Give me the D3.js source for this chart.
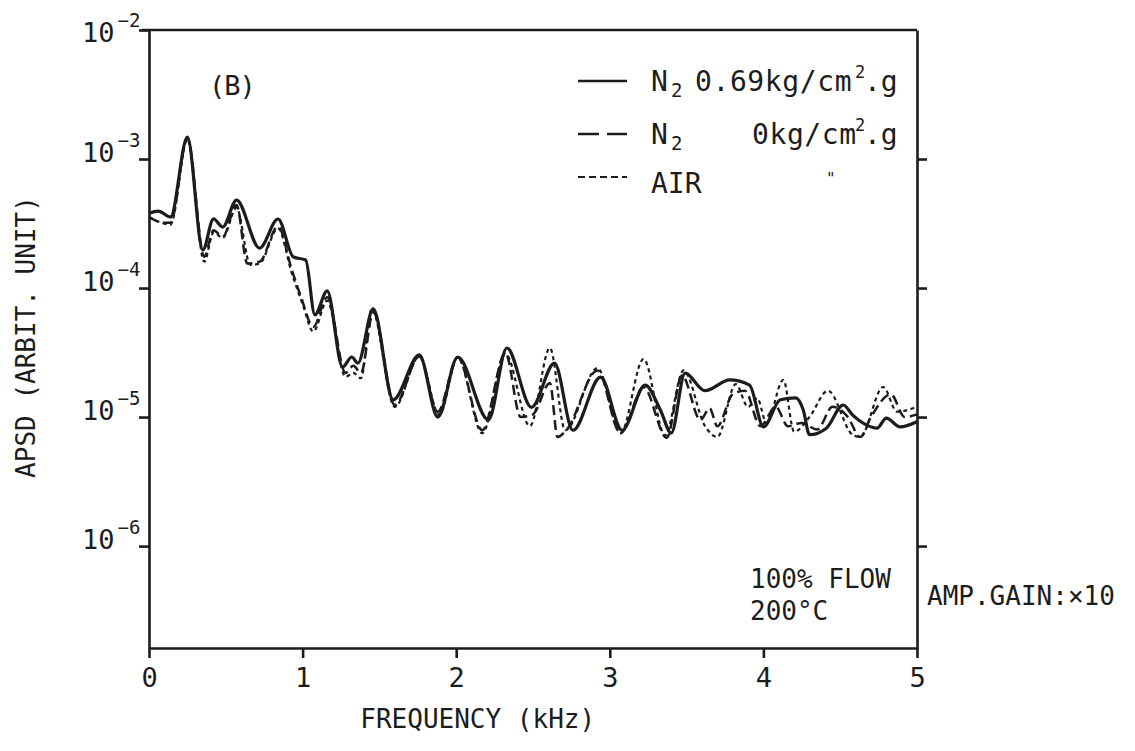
<!DOCTYPE html>
<html>
<head>
<meta charset="utf-8">
<script src="https://cdn.jsdelivr.net/npm/d3@7"></script>
<style>
  body { margin: 0; background: #fff; }
  text { font-family: "DejaVu Sans Mono", monospace; fill: #1c1c1c; }
</style>
</head>
<body>
<div class="canvas"></div>
<script>
// Data (frequency in kHz, APSD in arbitrary units)

const freqN2High = [0, 0.06, 0.14, 0.25, 0.35, 0.42, 0.48, 0.57, 0.72, 0.84, 0.94, 1.02, 1.08, 1.16, 1.26, 1.32, 1.36, 1.46, 1.59, 1.76, 1.88, 2.01, 2.21, 2.33, 2.49, 2.64, 2.76, 2.94, 3.08, 3.23, 3.33, 3.40, 3.49, 3.62, 3.78, 3.91, 4.00, 4.11, 4.21, 4.26, 4.30, 4.41, 4.52, 4.58, 4.67, 4.74, 4.80, 4.89, 5.0];
const apsdN2High = [3.8e-4, 3.95e-4, 3.55e-4, 1.48e-3, 1.97e-4, 3.43e-4, 2.97e-4, 4.81e-4, 2.04e-4, 3.43e-4, 1.74e-4, 1.65e-4, 6.2e-5, 9.5e-5, 2.44e-5, 2.92e-5, 2.62e-5, 6.9e-5, 1.36e-5, 3.03e-5, 1.0e-5, 2.92e-5, 9.5e-6, 3.43e-5, 1.19e-5, 2.62e-5, 7.9e-6, 2.04e-5, 7.9e-6, 1.77e-5, 1.13e-5, 7.5e-6, 2.19e-5, 1.6e-5, 1.94e-5, 1.77e-5, 8.4e-6, 1.36e-5, 1.41e-5, 1.13e-5, 7.3e-6, 8.2e-6, 1.24e-5, 1.04e-5, 8.7e-6, 8.2e-6, 9.8e-6, 8.4e-6, 9.2e-6];

const freqN2Zero = [0, 0.10, 0.14, 0.25, 0.36, 0.42, 0.48, 0.57, 0.64, 0.72, 0.84, 0.93, 0.99, 1.07, 1.16, 1.28, 1.33, 1.38, 1.46, 1.60, 1.76, 1.88, 2.01, 2.17, 2.32, 2.42, 2.50, 2.61, 2.66, 2.72, 2.92, 3.07, 3.22, 3.37, 3.47, 3.59, 3.65, 3.70, 3.80, 3.88, 3.98, 4.08, 4.16, 4.25, 4.35, 4.45, 4.55, 4.63, 4.70, 4.83, 4.92, 5.0];
const apsdN2Zero = [3.55e-4, 3.2e-4, 3.2e-4, 1.45e-3, 1.75e-4, 2.8e-4, 2.5e-4, 4.4e-4, 1.55e-4, 1.6e-4, 3.0e-4, 1.38e-4, 8.5e-5, 5.0e-5, 8.5e-5, 2.2e-5, 2.5e-5, 2.2e-5, 6.5e-5, 1.24e-5, 2.95e-5, 1.1e-5, 2.9e-5, 7.9e-6, 3.13e-5, 1.0e-5, 1.05e-5, 1.84e-5, 7.0e-6, 8.0e-6, 2.3e-5, 7.5e-6, 1.7e-5, 6.9e-6, 2.1e-5, 9.5e-6, 1.17e-5, 8.5e-6, 1.5e-5, 1.6e-5, 8.5e-6, 1.2e-5, 8.5e-6, 9.0e-6, 8.0e-6, 1.2e-5, 1.0e-5, 7.0e-6, 1.0e-5, 1.5e-5, 1.0e-5, 1.05e-5];

const freqAir = [0, 0.14, 0.25, 0.36, 0.42, 0.48, 0.57, 0.66, 0.72, 0.84, 0.93, 1.00, 1.07, 1.16, 1.28, 1.33, 1.38, 1.45, 1.60, 1.76, 1.89, 2.01, 2.17, 2.32, 2.48, 2.61, 2.71, 2.92, 3.07, 3.22, 3.36, 3.48, 3.62, 3.70, 3.82, 3.90, 3.96, 4.02, 4.13, 4.20, 4.30, 4.42, 4.58, 4.63, 4.78, 4.87, 5.0];
const apsdAir = [3.55e-4, 3.1e-4, 1.42e-3, 1.6e-4, 2.7e-4, 2.45e-4, 4.2e-4, 1.51e-4, 1.55e-4, 2.9e-4, 1.3e-4, 7.5e-5, 4.6e-5, 8.0e-5, 2.05e-5, 2.2e-5, 2.0e-5, 6.9e-5, 1.2e-5, 2.95e-5, 1.04e-5, 2.9e-5, 7.5e-6, 3.1e-5, 8.5e-6, 3.43e-5, 7.9e-6, 2.4e-5, 7.5e-6, 2.82e-5, 7.2e-6, 2.3e-5, 8.5e-6, 7.0e-6, 1.8e-5, 1.2e-5, 1.4e-5, 9.0e-6, 1.94e-5, 7.7e-6, 1.0e-5, 1.6e-5, 7.3e-6, 7.0e-6, 1.71e-5, 1.1e-5, 1.2e-5];

const xTicks = [0, 1, 2, 3, 4, 5];
const yTicks = [1e-2, 1e-3, 1e-4, 1e-5, 1e-6];
const yExponents = ["-2", "-3", "-4", "-5", "-6"];

// Set dimensions & margins

const margin = { top: 30, right: 218, bottom: 103, left: 149 };
const width = 1135 - margin.left - margin.right;
const height = 751 - margin.top - margin.bottom;
const ink = "#1c1c1c";

const x = d3.scaleLinear().domain([0, 5]).range([0, width]);
const y = d3.scaleLog().domain([Math.pow(10, -6.79), 1e-2]).range([height, 0]);

const svg = d3.select(".canvas")
    .append("svg")
        .attr("width", 1135)
        .attr("height", 751)
    .append("g")
        .attr("transform", `translate(${margin.left}, ${margin.top})`);

// axes (ticks outward, labels drawn separately)

const axisStyle = g => {
    g.selectAll("path, line").attr("stroke", ink).attr("stroke-width", 2.6);
    g.selectAll("text").remove();
};

svg.append("g")
    .call(d3.axisLeft(y).tickValues(yTicks).tickSize(10).tickSizeOuter(0).tickFormat(""))
    .call(axisStyle);

svg.append("g")
    .attr("transform", `translate(${width},0)`)
    .call(d3.axisRight(y).tickValues(yTicks.slice(1)).tickSize(10).tickSizeOuter(0).tickFormat(""))
    .call(axisStyle);

svg.append("g")
    .attr("transform", `translate(0,${height})`)
    .call(d3.axisBottom(x).tickValues(xTicks).tickSize(10).tickSizeOuter(0).tickFormat(d3.format("d")))
    .call(g => g.selectAll("path, line").attr("stroke", ink).attr("stroke-width", 2.6))
    .selectAll("text")
        .attr("y", 20)
        .attr("dy", "0.71em")
        .style("font-size", "27px")
        .style("font-family", "DejaVu Sans Mono")
        .attr("fill", ink);

svg.append("line")
    .attr("x1", -7).attr("x2", width)
    .attr("y1", 0).attr("y2", 0)
    .attr("stroke", ink).attr("stroke-width", 2.6);

// y tick labels 10^-n

yTicks.forEach((t, i) => {
    const lbl = svg.append("text")
        .attr("x", -67)
        .attr("y", y(t) + (i === 0 ? 12 : 3))
        .style("font-size", "27px");
    lbl.append("tspan").text("10");
    lbl.append("tspan")
        .attr("dx", 3)
        .attr("dy", -15)
        .style("font-size", "19px")
        .text(yExponents[i].replace("-", "\u2212"));
});

// axis titles

svg.append("text")
    .attr("x", x(2.14))
    .attr("y", height + 80)
    .style("text-anchor", "middle")
    .style("font-size", "26px")
    .text("FREQUENCY (kHz)");

svg.append("text")
    .attr("transform", "rotate(-90)")
    .attr("x", -(337 - margin.top))
    .attr("y", 35 - margin.left)
    .style("text-anchor", "middle")
    .style("font-size", "26px")
    .text("APSD (ARBIT. UNIT)");

// series lines

const series = [
    { name: "n2high", f: freqN2High, v: apsdN2High, width: 3.2, dash: null },
    { name: "n2zero", f: freqN2Zero, v: apsdN2Zero, width: 2.5, dash: "10,5" },
    { name: "air", f: freqAir, v: apsdAir, width: 2.2, dash: "4,3.5" }
];

const line = d3.line()
    .x(d => x(d[0]))
    .y(d => y(d[1]))
    .curve(d3.curveMonotoneX);

series.slice().reverse().forEach(s => {
    svg.append("path")
        .datum(d3.zip(s.f, s.v))
        .attr("fill", "none")
        .attr("stroke", ink)
        .attr("stroke-width", s.width)
        .attr("stroke-linejoin", "round")
        .attr("stroke-dasharray", s.dash)
        .attr("d", line);
});

// legend

const lx = 578 - margin.left, tx = 651 - margin.left;
const legendRows = [
    { yl: 81, dash: null, w: 2.6 },
    { yl: 134, dash: "21,8", w: 2.6 },
    { yl: 177, dash: "7,4", w: 2.2 }
];
legendRows.forEach(r => {
    svg.append("line")
        .attr("x1", lx).attr("x2", lx + 49)
        .attr("y1", r.yl - margin.top).attr("y2", r.yl - margin.top)
        .attr("stroke", ink)
        .attr("stroke-width", r.w)
        .attr("stroke-dasharray", r.dash);
});

function n2Label(yb, rest, restX) {
    const t = svg.append("text")
        .attr("x", tx)
        .attr("y", yb - margin.top)
        .style("font-size", "28px");
    t.append("tspan").text("N");
    t.append("tspan").attr("x", tx + 20).attr("dy", 6).style("font-size", "19px").text("2");
    t.append("tspan").attr("x", restX - margin.left).attr("dy", -6).style("letter-spacing", "0.6px").text(rest);
    t.append("tspan").attr("x", 855 - margin.left).attr("dy", -13).style("font-size", "17px").text("2");
    t.append("tspan").attr("x", 864 - margin.left).attr("dy", 13).text(".g");
}
n2Label(91, "0.69kg/cm", 695);
n2Label(144, "0kg/cm", 752);

svg.append("text")
    .attr("x", tx)
    .attr("y", 193 - margin.top)
    .style("font-size", "28px")
    .text("AIR");

svg.append("text")
    .attr("x", 826 - margin.left)
    .attr("y", 184 - margin.top)
    .style("font-size", "16px")
    .text("\"");

// annotations

svg.append("text")
    .attr("x", 209 - margin.left)
    .attr("y", 95 - margin.top)
    .style("font-size", "27px")
    .style("letter-spacing", "-1px")
    .text("(B)");

svg.append("text")
    .attr("x", 750 - margin.left)
    .attr("y", 588 - margin.top)
    .style("font-size", "26px")
    .text("100% FLOW");

svg.append("text")
    .attr("x", 750 - margin.left)
    .attr("y", 620 - margin.top)
    .style("font-size", "26px")
    .text("200°C");

svg.append("text")
    .attr("x", 927 - margin.left)
    .attr("y", 605 - margin.top)
    .style("font-size", "26px")
    .text("AMP.GAIN:×10");
</script>
</body>
</html>
